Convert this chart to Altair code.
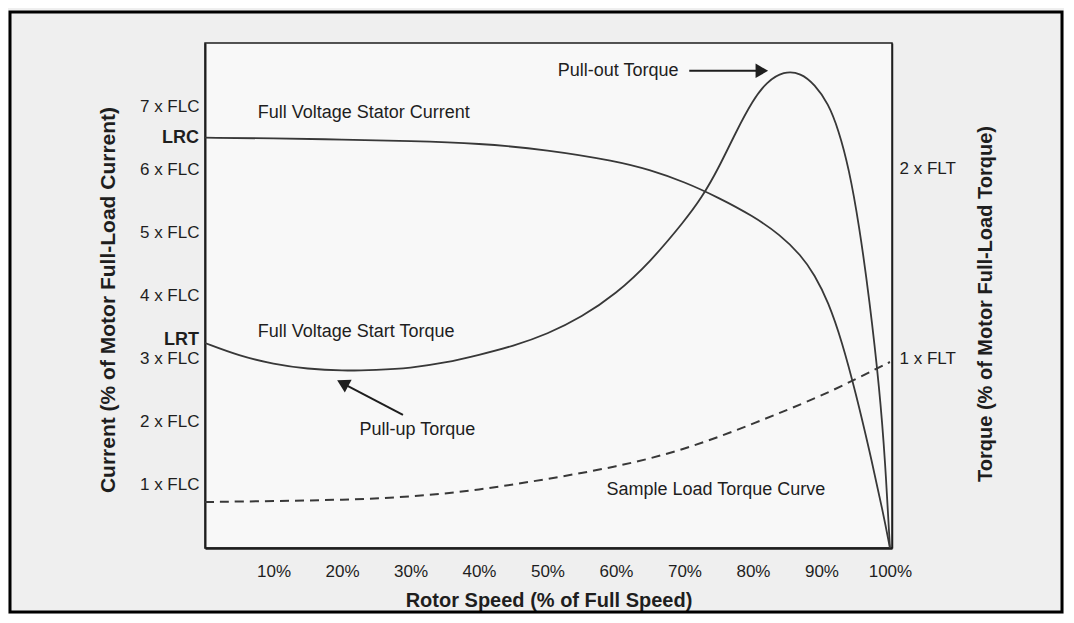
import altair as alt
import pandas as pd

# ---------------- data ----------------
speed_current = [0, 10, 20, 30, 40, 50, 60, 65, 70, 75, 80, 84, 87, 89, 91, 93, 95, 97, 99, 100]
current_flc = [6.50, 6.49, 6.47, 6.45, 6.41, 6.31, 6.13, 5.99, 5.80, 5.55, 5.26, 4.96,
               4.64, 4.33, 3.90, 3.27, 2.46, 1.55, 0.56, 0.0]

speed_torque = [0, 5, 10, 15, 20, 25, 30, 35, 40, 45, 50, 55, 60, 65, 70, 72.5, 75, 77.5,
                80, 82, 84.5, 87, 89, 91, 92.5, 94, 95.5, 97, 98.5, 99.3, 100]
torque_flt = [1.079, 1.011, 0.968, 0.942, 0.932, 0.937, 0.947, 0.974, 1.016, 1.063, 1.126,
              1.216, 1.337, 1.505, 1.721, 1.842, 2.00, 2.189, 2.358, 2.453, 2.51, 2.50,
              2.44, 2.34, 2.20, 2.00, 1.70, 1.31, 0.83, 0.46, 0.0]

speed_load = [0, 10, 20, 30, 40, 50, 60, 70, 80, 90, 95, 100]
load_flt = [0.242, 0.247, 0.253, 0.268, 0.305, 0.363, 0.426, 0.516, 0.653, 0.80, 0.889, 0.979]

x_ticks = [10, 20, 30, 40, 50, 60, 70, 80, 90, 100]
flc_ticks = [1, 2, 3, 4, 5, 6, 7]
flt_ticks = [1, 2]

left_notes_text = ["Full Voltage Stator Current", "Full Voltage Start Torque",
                   "Pull-out Torque", "Sample Load Torque Curve"]
left_notes_x = [7.7, 7.7, 51.5, 58.6]
left_notes_y = [6.89, 3.42, 7.56, 0.92]

center_notes_text = ["Pull-up Torque"]
center_notes_x = [31.0]
center_notes_y = [1.87]

arrow_id = ["out", "out", "up", "up"]
arrow_x = [70.7, 80.5, 28.9, 20.6]
arrow_y = [7.56, 7.56, 2.11, 2.58]

head_x = [81.3, 20.1]
head_y = [7.56, 2.61]
head_shape = ["triangle-right", "triangle-up"]
head_angle = [0, 298]

lrc_label = "LRC"
lrt_label = "LRT"

X_DOMAIN = [0, 100.3]
FLC_DOMAIN = [0, 8]
FLT_DOMAIN = [0, 2.658]
W, H = 687, 505
FONT = "Liberation Sans"
INK = "#1e1e1e"
CURVE = "#383838"

# ---------------- tables ----------------
df_cur = pd.DataFrame({"speed": speed_current, "val": current_flc})
df_tq = pd.DataFrame({"speed": speed_torque, "val": torque_flt})
df_load = pd.DataFrame({"speed": speed_load, "val": load_flt})
df_left = pd.DataFrame({"t": left_notes_text, "x": left_notes_x, "y": left_notes_y})
df_center = pd.DataFrame({"t": center_notes_text, "x": center_notes_x, "y": center_notes_y})
df_arrow = pd.DataFrame({"id": arrow_id, "x": arrow_x, "y": arrow_y})
df_head = pd.DataFrame({"x": head_x, "y": head_y, "shape": head_shape, "angle": head_angle})
df_lrc = pd.DataFrame({"t": [lrc_label], "x": [0], "y": [current_flc[0]]})
df_lrt = pd.DataFrame({"t": [lrt_label], "x": [0], "y": [torque_flt[0]]})

xs = alt.Scale(domain=X_DOMAIN, nice=False, zero=False)
ys_left = alt.Scale(domain=FLC_DOMAIN, nice=False)
ys_right = alt.Scale(domain=FLT_DOMAIN, nice=False)

x_axis = alt.Axis(values=x_ticks, labelExpr="datum.value + '%'", ticks=False, grid=False,
                  domainWidth=2.5, domainColor=INK, labelFontSize=17, labelPadding=15,
                  labelFlush=False, labelOverlap=False, labelColor=INK, labelFont=FONT,
                  title="Rotor Speed (% of Full Speed)", titleFontSize=20, titleFont=FONT,
                  titleFontWeight="bold", titleColor=INK, titleY=52, titleBaseline="middle")

y_left_axis = alt.Axis(orient="left", values=flc_ticks, labelExpr="datum.value + ' x FLC'",
                       ticks=False, grid=False, domainWidth=2, domainColor=INK,
                       labelFontSize=17, labelPadding=6, labelFlush=False, labelOverlap=False,
                       labelColor=INK, labelFont=FONT,
                       title="Current (% of Motor Full-Load Current)", titleFontSize=21,
                       titleFont=FONT, titleFontWeight="bold", titleColor=INK,
                       titleX=-97, titleY=H / 2 + 4, titleAngle=270, titleAlign="center",
                       titleBaseline="middle")

y_right_axis = alt.Axis(orient="right", values=flt_ticks, labelExpr="datum.value + ' x FLT'",
                        ticks=False, grid=False, domainWidth=1.5, domainColor=INK,
                        labelFontSize=17, labelPadding=7, labelFlush=False, labelOverlap=False,
                        labelColor=INK, labelFont=FONT,
                        title="Torque (% of Motor Full-Load Torque)", titleFontSize=20,
                        titleFont=FONT, titleFontWeight="bold", titleColor=INK,
                        titleX=93, titleY=H / 2 + 8, titleAngle=270, titleAlign="center",
                        titleBaseline="middle")

# ---------------- left (current) group ----------------
cur_line = alt.Chart(df_cur).mark_line(color=CURVE, strokeWidth=1.8,
                                       interpolate="basis").encode(
    x=alt.X("speed:Q", scale=xs, axis=x_axis),
    y=alt.Y("val:Q", scale=ys_left, axis=y_left_axis),
)

notes_left = alt.Chart(df_left).mark_text(align="left", baseline="middle", font=FONT,
                                          fontSize=18, color=INK).encode(
    x=alt.X("x:Q", scale=xs), y=alt.Y("y:Q", scale=ys_left), text="t:N")

notes_center = alt.Chart(df_center).mark_text(align="center", baseline="middle", font=FONT,
                                              fontSize=18, color=INK).encode(
    x=alt.X("x:Q", scale=xs), y=alt.Y("y:Q", scale=ys_left), text="t:N")

lrc = alt.Chart(df_lrc).mark_text(align="right", baseline="middle", dx=-6, font=FONT,
                                  fontSize=18, fontWeight="bold", color=INK).encode(
    x=alt.X("x:Q", scale=xs), y=alt.Y("y:Q", scale=ys_left), text="t:N")

arrows = alt.Chart(df_arrow).mark_line(color=INK, strokeWidth=2).encode(
    x=alt.X("x:Q", scale=xs), y=alt.Y("y:Q", scale=ys_left), detail="id:N")

heads = alt.Chart(df_head).mark_point(filled=True, color=INK, opacity=1, size=210).encode(
    x=alt.X("x:Q", scale=xs), y=alt.Y("y:Q", scale=ys_left),
    shape=alt.Shape("shape:N", scale=None), angle=alt.Angle("angle:Q", scale=None))

frame = alt.Chart(df_lrc).mark_rect(fill=None, stroke="#000", strokeWidth=3).encode(
    x=alt.value(-195), x2=alt.value(W + 170), y=alt.value(-31), y2=alt.value(H + 64))

left_group = alt.layer(frame, cur_line, notes_left, notes_center, lrc, arrows, heads)

# ---------------- right (torque) group ----------------
tq_line = alt.Chart(df_tq).mark_line(color=CURVE, strokeWidth=1.8,
                                     interpolate="basis").encode(
    x=alt.X("speed:Q", scale=xs),
    y=alt.Y("val:Q", scale=ys_right, axis=y_right_axis),
)

load_line = alt.Chart(df_load).mark_line(color=CURVE, strokeWidth=2, strokeDash=[9, 6],
                                         interpolate="basis").encode(
    x=alt.X("speed:Q", scale=xs), y=alt.Y("val:Q", scale=ys_right))

lrt = alt.Chart(df_lrt).mark_text(align="right", baseline="middle", dx=-6, dy=-3, font=FONT,
                                  fontSize=18, fontWeight="bold", color=INK).encode(
    x=alt.X("x:Q", scale=xs), y=alt.Y("y:Q", scale=ys_right), text="t:N")

right_group = alt.layer(tq_line, load_line, lrt)

chart = alt.layer(left_group, right_group).resolve_scale(y="independent").properties(
    width=W, height=H, background="#efefef",
    padding={"left": 0, "top": 2, "right": 0, "bottom": 0},
).configure_view(stroke=INK, strokeWidth=1.5, fill="#f8f8f8")

chart.save("out.html", embed_options={"renderer": "svg", "actions": False})
